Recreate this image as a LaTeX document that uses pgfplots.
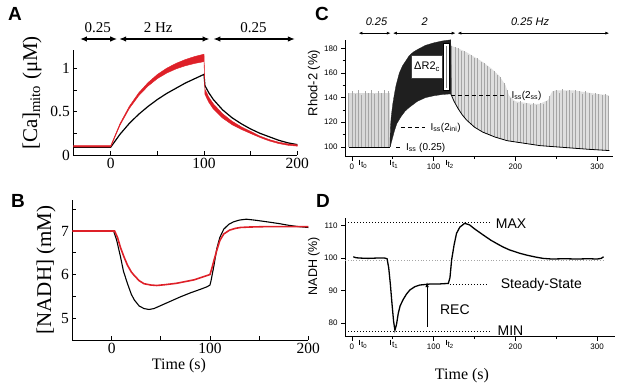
\documentclass[border=0pt]{standalone}
\usepackage{fontspec}
\setmainfont{Liberation Serif}
\newfontfamily\sans{Liberation Sans}
\usepackage{pgfplots}
\pgfplotsset{compat=1.18}
\usetikzlibrary{arrows.meta}
\definecolor{myred}{RGB}{222,32,40}
\pgfplotsset{
  panelAB/.style={scale only axis, axis lines=left, axis line style={-, line width=0.9pt}, clip=false,
    tick align=inside, major tick length=4pt, tick style={black, line width=0.9pt},
    ticklabel style={font=\fontsize{15.5}{16}\selectfont}},
  panelCD/.style={scale only axis, axis lines=left, axis line style={-, line width=0.8pt}, clip=false,
    tick align=outside, major tick length=4pt, minor tick length=2.5pt, tick style={black, line width=0.7pt},
    ticklabel style={font=\sans\fontsize{8}{9}\selectfont}},
}
\begin{document}
\begin{tikzpicture}
\path[use as bounding box] (0pt,0pt) rectangle (621pt,386pt);

% ---------------- Panel A ----------------
\begin{axis}[panelAB, at={(73.4pt,231pt)}, anchor=south west, width=223.9pt, height=104.9pt,
  xmin=-40, xmax=200, ymin=0, ymax=1.21,
  xtick={0,50,100,150,200}, xticklabels={0,,100,,200},
  ytick={0,0.25,0.5,0.75,1}, yticklabels={0,,0.5,,1}]
\addplot[black, line width=1.2pt] coordinates {(-40,0.09)(0,0.09)(10,0.24)(20,0.365)(30,0.47)(40,0.56)(50,0.64)(60,0.71)(70,0.77)(80,0.83)(90,0.88)(100,0.930)(101,0.80)(105,0.72)(110,0.64)(120,0.52)(130,0.43)(140,0.36)(150,0.30)(160,0.25)(170,0.21)(180,0.17)(190,0.14)(200,0.12)};
\addplot[fill=myred, draw=myred, line width=0.4pt] coordinates {(-40,0.108)(0,0.108)(10,0.364)(20,0.563)(30,0.717)(40,0.835)(50,0.929)(60,1.001)(70,1.057)(80,1.101)(90,1.136)(100,1.163)(101,0.76)(105,0.67)(110,0.59)(120,0.475)(130,0.39)(140,0.325)(150,0.272)(160,0.218)(170,0.178)(180,0.148)(190,0.128)(200,0.118)
 (200,0.102)(190,0.112)(180,0.132)(170,0.162)(160,0.202)(150,0.248)(140,0.295)(130,0.35)(120,0.425)(110,0.53)(105,0.61)(101,0.70)(100,1.077)(90,1.056)(80,1.029)(70,0.993)(60,0.945)(50,0.881)(40,0.795)(30,0.683)(20,0.537)(10,0.344)(0,0.092)(-40,0.092)};
\draw[{Latex[length=7pt,width=5.5pt]}-{Latex[length=7pt,width=5.5pt]}, line width=1.4pt] (axis cs:-33,1.338) -- (axis cs:7,1.338);
\draw[{Latex[length=7pt,width=5.5pt]}-{Latex[length=7pt,width=5.5pt]}, line width=1.4pt] (axis cs:9,1.338) -- (axis cs:106,1.338);
\draw[{Latex[length=7pt,width=5.5pt]}-{Latex[length=7pt,width=5.5pt]}, line width=1.4pt] (axis cs:110,1.338) -- (axis cs:197.5,1.338);
\node[font=\fontsize{15}{15}\selectfont] at (axis cs:-14,1.47) {0.25};
\node[font=\fontsize{15}{15}\selectfont] at (axis cs:51,1.47) {2 Hz};
\node[font=\fontsize{15}{15}\selectfont] at (axis cs:153,1.47) {0.25};
\end{axis}

% ---------------- Panel B ----------------
\begin{axis}[panelAB, at={(72.3pt,46pt)}, anchor=south west, width=236pt, height=140pt,
  xmin=-40, xmax=200, ymin=4.5, ymax=7.71,
  xtick={0,50,100,150,200}, xticklabels={0,,100,,200},
  ytick={5,5.5,6,6.5,7,7.5}, yticklabels={5,,6,,7,}]
\addplot[black, line width=1.1pt] coordinates {(-40,7.0)(0,7.0)(2,7.0)(5,6.8)(9,6.41)(12,6.08)(16,5.80)(20,5.55)(23,5.42)(28,5.28)(33,5.22)(38,5.20)(43,5.22)(50,5.29)(60,5.39)(70,5.49)(80,5.58)(90,5.66)(97,5.72)(100,5.76)(101,5.85)(104,6.2)(107,6.6)(110,6.85)(114,7.04)(119,7.15)(124,7.21)(130,7.25)(137,7.27)(145,7.25)(158,7.21)(170,7.17)(180,7.13)(190,7.1)(200,7.08)};
\addplot[myred, line width=1.6pt] coordinates {(-40,7.0)(0,7.0)(3,7.0)(6,6.85)(9,6.62)(12.5,6.41)(16,6.22)(20,6.06)(23,5.98)(28,5.86)(33,5.79)(40,5.76)(46,5.75)(55,5.77)(66,5.80)(75,5.84)(84,5.88)(92,5.94)(100,6.0)(102,6.15)(104,6.32)(107,6.56)(110,6.78)(114,6.93)(120,7.02)(126,7.06)(131,7.08)(140,7.09)(158,7.1)(180,7.1)(200,7.1)};
\end{axis}

% ---------------- Panel C ----------------
\begin{axis}[panelCD, at={(345pt,229.3pt)}, anchor=south west, width=268.4pt, height=116.9pt,
  xmin=-8.5, xmax=320, ymin=92, ymax=187,
  xtick={0,100,200,300}, xticklabels={0,100,200,300}, minor xtick={50,150,250},
  ytick={100,120,140,160,180}, yticklabels={100,120,140,160,180}, minor ytick={110,130,150,170}]
\addplot[fill=gray!30, draw=none] coordinates {(-4,100)(-4,144)(46,144)(46,100)};
\addplot[fill=gray!25, draw=none] coordinates {(122,182)(130,180)(140,177)(150,173)(160,169)(170,164)(180,158)(188,150)(192,142)(200,137)(210,136)(220,135)(230,135)(240,138)(245,145)(250,146)(260,146)(270,146)(280,145)(290,144)(300,143)(314,142)(314,97)(290,98)(260,99.5)(230,101)(210,103)(190,105)(175,108)(160,112)(150,116)(140,122)(135,126)(130,131)(125,137)(121,143)};
\addplot[draw=none, mark=none, error bars/.cd, y dir=plus, y explicit, error mark=none,
  error bar style={draw=gray!70, line width=0.7pt}] table[x=t, y=b, y error=a] {
t b a
-4 100 44
0 100 45
4 100 43
8 100 46
12 100 42
16 100 45
20 100 44
24 100 46
28 100 43
32 100 45
36 100 44
40 100 46
44 100 45
122 141.5 40.5
126 136 45
130 131 49
134 127 51
138 123.5 54.5
142 121 54
146 118.5 56.5
150 116 56
154 114.5 57.5
158 113 56
162 111.5 56.5
166 110.5 55.5
170 109.5 53.5
174 108.5 53.5
178 107.5 50.5
182 107 50
186 106 46
190 105 41
194 104.5 35.5
198 104 33
202 103.5 32.5
206 103 34
210 103 32
214 102.5 33.5
218 102 32
222 101.5 34.5
226 101.5 32.5
230 101 35
234 100.5 34.5
238 100.5 36.5
242 100 41
246 100 45
250 99.5 46.5
254 99.5 44.5
258 99.5 47.5
262 99 46
266 99 47
270 99 45
274 98.5 47.5
278 98.5 46.5
282 98.5 44.5
286 98 47
290 98 46
294 98 44
298 97.5 46.5
302 97.5 45.5
306 97 45
310 97 46
314 97 44
};
\addplot[fill=black!88, draw=black!88, line width=0.3pt] coordinates {(46.5,100)(47,115)(48,124)(50,135)(52,143)(54,150)(58,160)(62,166)(66,170)(70,174)(75,177)(80,179)(90,182.5)(100,184.5)(110,186)(121,187)(121.5,143)(120,143)(110,142.5)(100,141.5)(90,140)(80,137)(70,132)(65,129)(60,124.5)(55,119)(52,113)(50,108)(48,103)(47,100)};
\addplot[black, line width=0.6pt] coordinates {(-4,100)(46.5,100)};
\addplot[black, line width=0.8pt] coordinates {(121,143)(125,137)(130,131)(135,126)(140,122)(150,116)(160,112)(175,108)(190,105)(210,103)(230,101)(260,99.5)(290,98)(315,97)};
\addplot[fill=white, draw=black!75, line width=0.6pt] coordinates {(73,155.6)(111,155.6)(111,174.5)(73,174.5)(73,155.6)};
\node[font=\sans\fontsize{11}{11}\selectfont] at (axis cs:92,165) {ΔR2\textsubscript{c}};
\addplot[fill=white, draw=black, line width=1.3pt] coordinates {(112,146)(119,146)(119,184)(112,184)(112,146)};
\addplot[gray, line width=1.2pt] coordinates {(115.5,148)(115.5,182)};
\addplot[black, line width=0.9pt, dash pattern=on 4pt off 3pt] coordinates {(121,141.5)(186,141.5)};
\addplot[black, line width=0.9pt, dash pattern=on 4pt off 3pt] coordinates {(60,115.8)(90,115.8)};
\addplot[black, line width=0.9pt] coordinates {(54,99.2)(59,99.2)};
\node[anchor=west, font=\sans\fontsize{10}{10}\selectfont] at (axis cs:191,141.5) {I\textsubscript{ss}(2\textsubscript{ss})};
\node[anchor=west, font=\sans\fontsize{10}{10}\selectfont] at (axis cs:92,115.8) {I\textsubscript{ss}(2\textsubscript{ini})};
\node[anchor=west, font=\sans\fontsize{10}{10}\selectfont] at (axis cs:62,99.2) {I\textsubscript{ss} (0.25)};
\draw[{Latex[length=4pt,width=3pt]}-{Latex[length=4pt,width=3pt]}, line width=0.7pt] (axis cs:8,192.4) -- (axis cs:47.5,192.4);
\draw[{Latex[length=4pt,width=3pt]}-{Latex[length=4pt,width=3pt]}, line width=0.7pt] (axis cs:50,192.4) -- (axis cs:127,192.4);
\draw[{Latex[length=4pt,width=3pt]}-{Latex[length=4pt,width=3pt]}, line width=0.7pt] (axis cs:129,192.4) -- (axis cs:315,192.4);
\node[font=\sans\itshape\fontsize{11}{11}\selectfont] at (axis cs:30,202) {0.25};
\node[font=\sans\itshape\fontsize{11}{11}\selectfont] at (axis cs:89,202) {2};
\node[font=\sans\itshape\fontsize{11}{11}\selectfont] at (axis cs:218,202) {0.25 Hz};
\draw[line width=0.6pt] (axis cs:9,92) ++(0pt,-3pt) -- ++(0pt,-5pt);
\draw[line width=0.6pt] (axis cs:47,92) ++(0pt,-3pt) -- ++(0pt,-5pt);
\draw[line width=0.6pt] (axis cs:115,92) ++(0pt,-3pt) -- ++(0pt,-5pt);
\node[anchor=north west, inner sep=0pt, xshift=1.5pt, yshift=-5pt, font=\sans\fontsize{8.5}{8.5}\selectfont] at (axis cs:9,92) {t\textsubscript{0}};
\node[anchor=north west, inner sep=0pt, xshift=1.5pt, yshift=-5pt, font=\sans\fontsize{8.5}{8.5}\selectfont] at (axis cs:47,92) {t\textsubscript{1}};
\node[anchor=north west, inner sep=0pt, xshift=1.5pt, yshift=-5pt, font=\sans\fontsize{8.5}{8.5}\selectfont] at (axis cs:115,92) {t\textsubscript{2}};
\end{axis}

% ---------------- Panel D ----------------
\begin{axis}[panelCD, at={(345pt,49.3pt)}, anchor=south west, width=270pt, height=118.6pt,
  xmin=-8.5, xmax=322, ymin=75.8, ymax=112.3,
  xtick={0,100,200,300}, xticklabels={0,100,200,300}, minor xtick={50,150,250},
  ytick={80,90,100,110}, yticklabels={80,90,100,110}]
\addplot[gray!70, line width=0.8pt, dotted] coordinates {(-8.5,99.3)(308,99.3)};
\addplot[black, line width=1pt, dotted] coordinates {(-8.5,110.8)(170,110.8)};
\addplot[black, line width=1pt, dotted] coordinates {(-8.5,77.3)(171,77.3)};
\addplot[black, line width=1pt, dotted] coordinates {(120,92)(167,92)};
\addplot[black, line width=1.3pt] coordinates {(1.6,100.4)(5,100.1)(10,100)(20,99.9)(30,100)(40,100)(43,99.8)(45,97)(47,92)(49,86)(51,80.5)(52.6,77.8)(54.5,79.5)(56.7,83)(59,85.3)(62.8,87.3)(67,89)(71,90.2)(77,91.2)(83,91.7)(95,92)(105,92)(118,92.2)(120,94)(122,99.4)(125,104)(128,107.6)(132,109.5)(138,110.7)(144,110.2)(150,109)(160.7,107.1)(170,105.5)(177,104.5)(185,103.4)(193,102.5)(205,101.5)(214,100.9)(225,100.3)(234,99.9)(245,99.7)(260,99.8)(275,99.7)(290,99.8)(300,99.7)(305,99.9)(308,100.4)};
\draw[-{Latex[length=5pt,width=3.5pt]}, line width=0.8pt] (axis cs:92,78.9) -- (axis cs:92,92.6);
\node[font=\sans\fontsize{14}{14}\selectfont] at (axis cs:126,84.2) {REC};
\node[anchor=west, font=\sans\fontsize{14}{14}\selectfont] at (axis cs:172,110.5) {MAX};
\node[anchor=west, font=\sans\fontsize{14}{14}\selectfont] at (axis cs:178,91.6) {Steady-State};
\node[anchor=west, font=\sans\fontsize{14}{14}\selectfont] at (axis cs:174,77.6) {MIN};
\draw[line width=0.6pt] (axis cs:9,75.8) ++(0pt,-3pt) -- ++(0pt,-5pt);
\draw[line width=0.6pt] (axis cs:47,75.8) ++(0pt,-3pt) -- ++(0pt,-5pt);
\draw[line width=0.6pt] (axis cs:115,75.8) ++(0pt,-3pt) -- ++(0pt,-5pt);
\node[anchor=north west, inner sep=0pt, xshift=1.5pt, yshift=-5pt, font=\sans\fontsize{8.5}{8.5}\selectfont] at (axis cs:9,75.8) {t\textsubscript{0}};
\node[anchor=north west, inner sep=0pt, xshift=1.5pt, yshift=-5pt, font=\sans\fontsize{8.5}{8.5}\selectfont] at (axis cs:47,75.8) {t\textsubscript{1}};
\node[anchor=north west, inner sep=0pt, xshift=1.5pt, yshift=-5pt, font=\sans\fontsize{8.5}{8.5}\selectfont] at (axis cs:115,75.8) {t\textsubscript{2}};
\end{axis}

% ---------------- labels ----------------
\node[font=\sans\bfseries\fontsize{19}{19}\selectfont] at (15pt,372pt) {A};
\node[font=\sans\bfseries\fontsize{19}{19}\selectfont] at (18pt,185pt) {B};
\node[font=\sans\bfseries\fontsize{19}{19}\selectfont] at (322pt,372pt) {C};
\node[font=\sans\bfseries\fontsize{19}{19}\selectfont] at (323pt,185pt) {D};
\node[rotate=90, font=\fontsize{21}{21}\selectfont] at (32pt,293pt) {[Ca]\textsubscript{mito} (μM)};
\node[rotate=90, font=\fontsize{21}{21}\selectfont] at (46pt,116pt) {[NADH] (mM)};
\node[rotate=90, font=\sans\fontsize{13}{13}\selectfont] at (314pt,303pt) {Rhod-2 (\%)};
\node[rotate=90, font=\sans\fontsize{12.5}{13}\selectfont] at (314pt,120pt) {NADH (\%)};
\node[font=\fontsize{16}{16}\selectfont] at (179pt,20pt) {Time (s)};
\node[font=\fontsize{16}{16}\selectfont] at (462pt,10pt) {Time (s)};
\end{tikzpicture}
\end{document}
